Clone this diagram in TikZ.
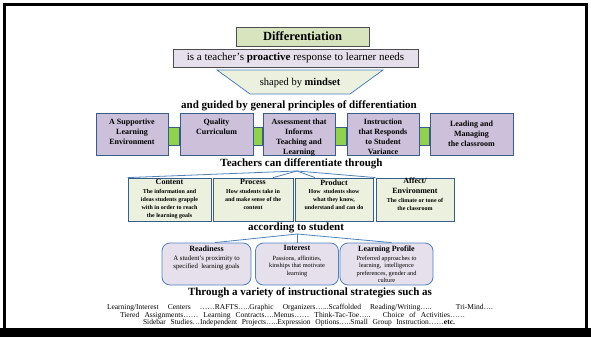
\documentclass[tikz,border=0pt]{standalone}
\usepackage{fontspec}
\setmainfont{Liberation Serif}
\usetikzlibrary{calc}
\definecolor{linecol}{RGB}{79,129,189}
\definecolor{boxedge}{RGB}{56,93,138}
\definecolor{lav}{RGB}{204,192,218}
\definecolor{lightlav}{RGB}{230,224,236}
\definecolor{palegreen}{RGB}{235,241,222}
\definecolor{titlegreen}{RGB}{215,228,189}
\definecolor{brightgreen}{RGB}{146,208,80}
\newcommand{\fsz}[2]{\fontsize{#1}{#2}\selectfont}
\begin{document}
\begin{tikzpicture}[x=1pt,y=-1pt,
  pbox/.style={draw=boxedge, fill=lav, line width=0.8pt, minimum height=42, inner sep=0},
  gbox/.style={draw=boxedge, fill=palegreen, line width=0.8pt, minimum height=43, inner sep=0},
  rbox/.style={draw=linecol, fill=lightlav, line width=0.8pt, rounded corners=8pt, minimum height=42, inner sep=0},
  conn/.style={draw=boxedge, fill=brightgreen, line width=0.6pt},
  link/.style={draw=linecol, line width=0.8pt},
  boxtxt/.style={anchor=north, align=center, inner sep=0, font=\bfseries\fsz{8}{10}},
  gtitle/.style={anchor=north, align=center, inner sep=0, font=\bfseries\fsz{8}{10}},
  gdesc/.style={anchor=north, align=center, inner sep=0, font=\bfseries\fsz{6}{8}},
  rdesc/.style={anchor=north, align=center, inner sep=0, font=\fsz{6.3}{7.5}},
  head/.style={inner sep=0, font=\bfseries\fsz{11}{13}},
  strat/.style={inner sep=0, font=\fsz{7.5}{8}},
]
\useasboundingbox (0,0) rectangle (591,337);
% frame
\fill[black] (0,328) rectangle (591,337);
\draw[line width=3pt] (4.5,330) -- (4.5,4.5) -- (586.5,4.5) -- (586.5,330);

% top
\node[draw=black!70, fill=titlegreen, line width=0.8pt, minimum width=133, minimum height=19, inner sep=0, font=\bfseries\fsz{12.5}{14}] (title) at (302.5,36.5) {Differentiation};
\node[draw=black!70, fill=lightlav, line width=0.8pt, minimum width=245, minimum height=18, inner sep=0, font=\fsz{11}{12}] (def) at (295.5,58) {is a teacher's \textbf{proactive} response to learner needs};
\filldraw[link, fill=palegreen] (217,70) -- (383,70) -- (350,94) -- (250,94) -- cycle;
\node[inner sep=0, font=\fsz{10.5}{12}] (mind) at (300,83) {shaped by \textbf{mindset}};
\node[head] (guided) at (299,106) {and guided by general principles of differentiation};

% principles row
\node[pbox, minimum width=72] (b1) at (132,134) {};
\node[pbox, minimum width=73] (b2) at (216.5,134) {};
\node[pbox, minimum width=72] (b3) at (299,134) {};
\node[pbox, minimum width=72] (b4) at (383,134) {};
\node[pbox, minimum width=83] (b5) at (471.5,134) {};
\filldraw[conn] ($(b1.east)+(0,-7)$) rectangle ($(b2.west)+(0,11)$);
\filldraw[conn] ($(b2.east)+(0,-7)$) rectangle ($(b3.west)+(0,11)$);
\filldraw[conn] ($(b3.east)+(0,-7)$) rectangle ($(b4.west)+(0,11)$);
\filldraw[conn] ($(b4.east)+(0,-7)$) rectangle ($(b5.west)+(0,11)$);
\node[boxtxt] (b1t) at (132,118.5) {A Supportive\\Learning\\Environment};
\node[boxtxt] (b2t) at (216.5,118.5) {Quality\\Curriculum};
\node[boxtxt] (b3t) at (299,118.5) {Assessment that\\Informs\\Teaching and\\Learning};
\node[boxtxt] (b4t) at (383,118.5) {Instruction\\that Responds\\to Student\\Variance};
\node[boxtxt] (b5t) at (471.5,120.5) {Leading and\\Managing\\the classroom};

% teachers can differentiate
\node[head] (teach) at (301.5,164) {Teachers can differentiate through};
\node[gbox, minimum width=83] (g1) at (169.5,199.5) {};
\node[gbox, minimum width=80] (g2) at (253,199.5) {};
\node[gbox, minimum width=78] (g3) at (334,199.5) {};
\node[gbox, minimum width=78] (g4) at (415,199.5) {};
\coordinate (hub1) at (297,171);
\draw[link] (hub1) -- (g1.north west);
\draw[link] (hub1) -- ($(g2.north west)!0.75!(g2.north east)$);
\draw[link] (hub1) -- ($(g3.north west)!0.26!(g3.north east)$);
\draw[link] (hub1) -- (g4.north west);
\node[gtitle] (g1t) at (169.5,179.5) {Content};
\node[gdesc] (g1d) at (169.5,189) {The information and\\ideas students grapple\\with in order to reach\\the learning goals};
\node[gtitle] (g2t) at (253,179.5) {Process};
\node[gdesc] (g2d) at (253,189) {How students take in\\and make sense of the\\content};
\node[gtitle] (g3t) at (334,179.5) {Product};
\node[gdesc] (g3d) at (334,189) {How\ \ students show\\what they know,\\understand and can do};
\node[gtitle] (g4t) at (415,177.5) {Affect/\\Environment};
\node[gdesc] (g4d) at (415,198) {The climate or tone of\\the classroom};

% according to student
\node[head] (acc) at (296,228) {according to student};
\node[rbox, minimum width=89] (r1) at (206.5,264) {};
\node[rbox, minimum width=83] (r2) at (297,264) {};
\node[rbox, minimum width=93] (r3) at (386.5,264) {};
\coordinate (hub2) at (297,234);
\draw[link] (hub2) -- ($(r1.north)+(8.5,0)$);
\draw[link] (hub2) -- (r2.north);
\draw[link] (hub2) -- ($(r3.north)+(5,0)$);
\node[gtitle] (r1t) at (206.5,245.5) {Readiness};
\node[rdesc, font=\fsz{6.8}{8}] (r1d) at (206.5,255.5) {A student's proximity to\\specified\ \ learning goals};
\node[gtitle] (r2t) at (297,245.5) {Interest};
\node[rdesc] (r2d) at (297,255.5) {Passions, affinities,\\kinships that motivate\\learning};
\node[gtitle] (r3t) at (386.5,245.5) {Learning Profile};
\node[rdesc] (r3d) at (386.5,255.5) {Preferred approaches to\\learning,\ \ intelligence\\preferences, gender and\\culture};

% strategies
\node[head] (thru) at (310,293) {Through a variety of instructional strategies such as};
\node[strat] (s1) at (300,308) {\makebox[386pt][s]{Learning/Interest Centers ……RAFTS…..Graphic Organizers…...Scaffolded Reading/Writing….. Tri-Mind….}};
\node[strat] (s2) at (292.5,315.5) {\makebox[345pt][s]{Tiered Assignments…… Learning Contracts….Menus…… Think-Tac-Toe….. Choice of Activities……}};
\node[strat] (s3) at (299,323) {\makebox[312pt][s]{Sidebar Studies…Independent Projects…..Expression Options…..Small Group Instruction……\textbf{etc.}}};
\end{tikzpicture}
\end{document}
